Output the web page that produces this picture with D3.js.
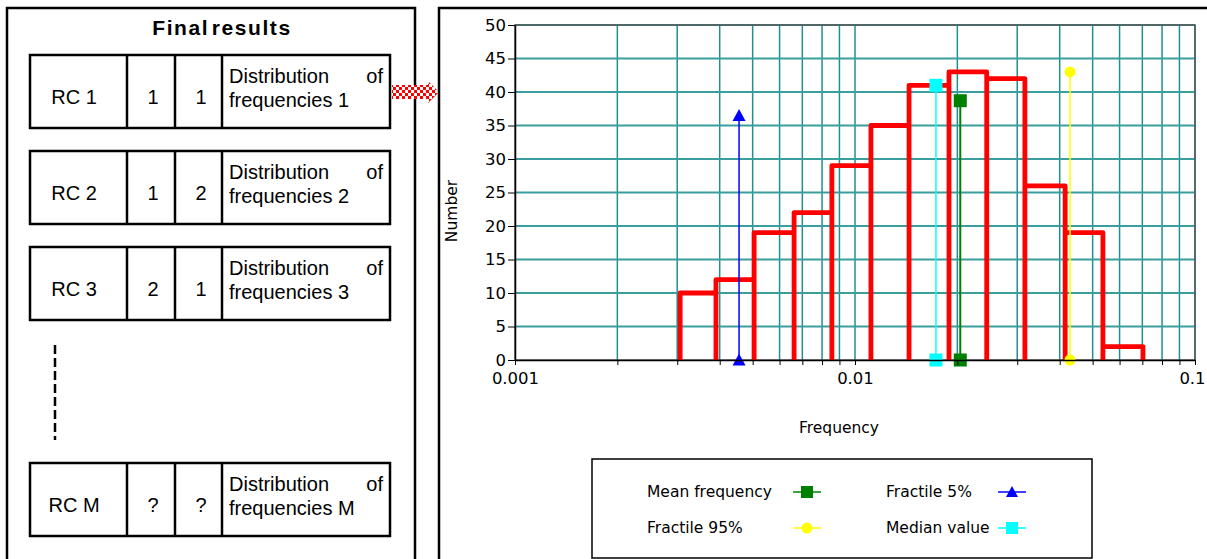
<!DOCTYPE html>
<html>
<head>
<meta charset="utf-8">
<script src="https://cdn.jsdelivr.net/npm/d3@7"></script>
<style>
  body { margin: 0; background: #fff; }
  svg { display: block; }
  .box { font-family: "Liberation Sans", Arial, sans-serif; font-size: 20px; }
  .chart { font-family: "DejaVu Sans", Verdana, sans-serif; font-size: 15.5px; }
</style>
</head>
<body>
<svg id="main" width="1207" height="559"></svg>
<script>
const WIDTH = 1207,
	  HEIGHT = 559;

// left table
const rowNames = ["RC 1", "RC 2", "RC 3", "RC M"],
	  rowColA = ["1", "1", "2", "?"],
	  rowColB = ["1", "2", "1", "?"],
	  rowIndex = ["1", "2", "3", "M"];

// histogram: bin edges (frequency) and counts
const binEdges = [0.00306, 0.0039, 0.00505, 0.00662, 0.00855, 0.01114, 0.01442, 0.0189, 0.0244, 0.0316, 0.0415, 0.0536, 0.0703],
	  binCounts = [10, 12, 19, 22, 29, 35, 41, 43, 42, 26, 19, 2];

// statistic markers
const statNames = ["Mean frequency", "Fractile 5%", "Fractile 95%", "Median value"],
	  statFreq = [0.0204, 0.00456, 0.0429, 0.0173],
	  statTop = [38.7, 36.5, 43, 41],
	  statColor = ["#008000", "#0000ff", "#ffff00", "#00ffff"],
	  statShape = ["square", "triangle", "circle", "square"];

const yTicks = [0, 5, 10, 15, 20, 25, 30, 35, 40, 45, 50];

const svg = d3.select("#main");

// checker pattern for the arrow
let pat = svg.append("defs").append("pattern")
	.attr("id", "checker")
	.attr("patternUnits", "userSpaceOnUse")
	.attr("width", 6)
	.attr("height", 6);
pat.append("rect").attr("width", 6).attr("height", 6).attr("fill", "#fff");
pat.append("rect").attr("width", 3).attr("height", 3).attr("fill", "#ff0000");
pat.append("rect").attr("x", 3).attr("y", 3).attr("width", 3).attr("height", 3).attr("fill", "#ff0000");

// ---------- left panel ----------
let left = svg.append("g").attr("class", "box");

left.append("rect")
	.attr("x", 7).attr("y", 8)
	.attr("width", 408).attr("height", 580)
	.attr("fill", "none").attr("stroke", "#000").attr("stroke-width", 2.5);

left.append("text")
	.attr("x", 222).attr("y", 35)
	.attr("text-anchor", "middle")
	.style("font-weight", "bold")
	.style("font-size", "21px")
	.style("word-spacing", "-5px")
	.style("letter-spacing", "1.6px")
	.text("Final results");

const rowTops = [55, 151, 247, 463],
	  rowH = 73,
	  colX = [30, 127, 175, 222, 390];

rowNames.forEach((name, i) => {
	let g = left.append("g").attr("transform", "translate(0," + rowTops[i] + ")");

	g.append("rect")
		.attr("x", colX[0]).attr("y", 0)
		.attr("width", colX[4] - colX[0]).attr("height", rowH)
		.attr("fill", "#fff").attr("stroke", "#000").attr("stroke-width", 2.5);

	for (let k = 1; k <= 3; k ++) {
		g.append("line")
			.attr("x1", colX[k]).attr("x2", colX[k])
			.attr("y1", 0).attr("y2", rowH)
			.attr("stroke", "#000").attr("stroke-width", 2.5);
	}

	g.append("text").attr("x", 74).attr("y", 49).attr("text-anchor", "middle").text(name);
	g.append("text").attr("x", 153).attr("y", 49).attr("text-anchor", "middle").text(rowColA[i]);
	g.append("text").attr("x", 201).attr("y", 49).attr("text-anchor", "middle").text(rowColB[i]);

	// justified first line
	g.append("text").attr("x", 229).attr("y", 28).text("Distribution");
	g.append("text").attr("x", 383).attr("y", 28).attr("text-anchor", "end").text("of");
	g.append("text").attr("x", 229).attr("y", 52).text("frequencies " + rowIndex[i]);
});

// dashed "..." line
left.append("line")
	.attr("x1", 55).attr("x2", 55)
	.attr("y1", 345).attr("y2", 440)
	.attr("stroke", "#000").attr("stroke-width", 2.5)
	.attr("stroke-dasharray", "9,4");

// checkered arrow
svg.append("path")
	.attr("d", "M392,85 L428,85 L428,81 L439,92 L428,103 L428,99 L392,99 Z")
	.attr("fill", "url(#checker)");

// ---------- right panel ----------
svg.append("rect")
	.attr("x", 439).attr("y", 8)
	.attr("width", 800).attr("height", 580)
	.attr("fill", "none").attr("stroke", "#000").attr("stroke-width", 2.5);

const x = d3.scaleLog().domain([0.001, 0.1]).range([515, 1195]),
	  y = d3.scaleLinear().domain([0, 50]).range([360, 25]);

let chart = svg.append("g").attr("class", "chart");

// minor log ticks
let xTicks = [];
for (let d = 0.001; d < 0.1; d *= 10) {
	for (let m = 1; m <= 9; m ++) {
		xTicks.push(+(m * d).toPrecision(3));
	}
}
xTicks.push(0.1);

// grid
chart.append("g").selectAll("line")
	.data(xTicks.slice(1))
	.join("line")
		.attr("x1", d => x(d)).attr("x2", d => x(d))
		.attr("y1", y(50)).attr("y2", y(0))
		.attr("stroke", "#1f8f8f").attr("stroke-width", 1.5);

chart.append("g").selectAll("line")
	.data(yTicks.slice(1))
	.join("line")
		.attr("x1", x(0.001)).attr("x2", x(0.1))
		.attr("y1", d => y(d)).attr("y2", d => y(d))
		.attr("stroke", "#3a9e9e").attr("stroke-width", 1.8);

chart.append("rect")
	.attr("x", x(0.001)).attr("y", y(50))
	.attr("width", x(0.1) - x(0.001)).attr("height", y(0) - y(50))
	.attr("fill", "none").attr("stroke", "#555").attr("stroke-width", 1.5);

// histogram outline
let stepPath = d3.path();
binCounts.forEach((c, i) => {
	stepPath.moveTo(x(binEdges[i]), y(0));
	stepPath.lineTo(x(binEdges[i]), y(c));
	stepPath.lineTo(x(binEdges[i + 1]), y(c));
	stepPath.lineTo(x(binEdges[i + 1]), y(0));
});
chart.append("path")
	.attr("d", stepPath.toString())
	.attr("fill", "none")
	.attr("stroke", "#ff0000")
	.attr("stroke-width", 4.8)
	.attr("stroke-linejoin", "round");

// marker shapes
function drawMarker(g, shape, cx, cy, color, size) {
	if (shape == "square") {
		g.append("rect")
			.attr("x", cx - size / 2).attr("y", cy - size / 2)
			.attr("width", size).attr("height", size)
			.attr("fill", color);
	}
	else if (shape == "triangle") {
		g.append("path")
			.attr("d", "M" + cx + "," + (cy - size / 2) + " L" + (cx + size / 2) + "," + (cy + size / 2 - 1) + " L" + (cx - size / 2) + "," + (cy + size / 2 - 1) + " Z")
			.attr("fill", color);
	}
	else {
		g.append("circle")
			.attr("cx", cx).attr("cy", cy).attr("r", size / 2)
			.attr("fill", color);
	}
}

// statistic lines
statNames.forEach((name, i) => {
	let g = chart.append("g");
	g.append("line")
		.attr("x1", x(statFreq[i])).attr("x2", x(statFreq[i]))
		.attr("y1", y(0)).attr("y2", y(statTop[i]))
		.attr("stroke", statColor[i])
		.attr("stroke-width", i == 0 ? 2 : 1.5);
	let s = statShape[i] == "circle" ? 11 : 13;
	drawMarker(g, statShape[i], x(statFreq[i]), y(0), statColor[i], s);
	drawMarker(g, statShape[i], x(statFreq[i]), y(statTop[i]), statColor[i], s);
});

// axes
chart.append("g")
	.attr("transform", "translate(" + x(0.001) + ",0)")
	.call(d3.axisLeft(y).tickValues(yTicks).tickSize(7).tickSizeOuter(0).tickPadding(2))
	.call(g => g.selectAll("text").style("font-family", "DejaVu Sans").style("font-size", "16.5px").attr("fill", "#000"))
	.call(g => g.select(".domain").attr("stroke-width", 1.5));

chart.append("g")
	.attr("transform", "translate(0," + y(0) + ")")
	.call(d3.axisBottom(x).tickValues(xTicks).tickSize(5).tickSizeOuter(0).tickPadding(7)
		.tickFormat(d => [0.001, 0.01, 0.1].includes(d) ? d.toString() : ""))
	.call(g => g.selectAll("text").style("font-family", "DejaVu Sans").style("font-size", "16.5px").attr("fill", "#000"))
	.call(g => g.selectAll("text").filter(d => d == 0.1).attr("dx", -3))
	.call(g => g.select(".domain").attr("stroke-width", 1.5));

chart.append("text")
	.attr("x", 839).attr("y", 433)
	.attr("text-anchor", "middle")
	.text("Frequency");

chart.append("text")
	.attr("transform", "translate(457,211) rotate(-90)")
	.attr("text-anchor", "middle")
	.style("font-size", "15.5px")
	.text("Number");

// legend
let legend = chart.append("g");
legend.append("rect")
	.attr("x", 592).attr("y", 459)
	.attr("width", 500).attr("height", 99)
	.attr("fill", "#fff").attr("stroke", "#000").attr("stroke-width", 1.5);

const legTextX = [647, 886, 647, 886],
	  legMarkX = [807, 1012, 807, 1012],
	  legY = [492, 492, 528, 528];

statNames.forEach((name, i) => {
	legend.append("text")
		.attr("x", legTextX[i]).attr("y", legY[i] + 5)
		.text(name);
	legend.append("line")
		.attr("x1", legMarkX[i] - 14).attr("x2", legMarkX[i] + 14)
		.attr("y1", legY[i]).attr("y2", legY[i])
		.attr("stroke", statColor[i]).attr("stroke-width", 1.5);
	drawMarker(legend, statShape[i], legMarkX[i], legY[i], statColor[i], statShape[i] == "circle" ? 11 : 12);
});
</script>
</body>
</html>
